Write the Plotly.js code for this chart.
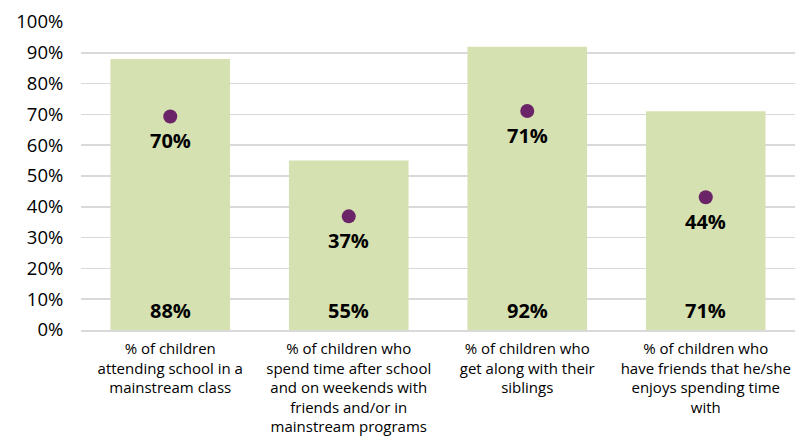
<!DOCTYPE html>
<html>
<head>
<meta charset="utf-8">
<script src="https://cdn.plot.ly/plotly-3.0.1.min.js"></script>
<style>html,body{margin:0;padding:0;background:#fff;}#chart{width:808px;height:440px;}</style>
</head>
<body>
<div id="chart"></div>
<script>
var categories = [
  "% of children<br>attending school in a<br>mainstream class",
  "% of children who<br>spend time after school<br>and on weekends with<br>friends and/or in<br>mainstream programs",
  "% of children who<br>get along with their<br>siblings",
  "% of children who<br>have friends that he/she<br>enjoys spending time<br>with"
];
var barValues = [88, 55, 92, 71];
var barLabels = ["88%", "55%", "92%", "71%"];
var dotValues = [69.3, 36.9, 71.1, 43.1];
var dotLabels = ["70%", "37%", "71%", "44%"];
var yTicks = [0, 10, 20, 30, 40, 50, 60, 70, 80, 90, 100];

var FONT = "Open Sans, Noto Sans, sans-serif";

var bars = {
  type: "bar",
  x: categories,
  y: barValues,
  marker: {color: "#d6e1b1"},
  hoverinfo: "skip"
};
var dots = {
  type: "scatter",
  mode: "markers",
  x: categories,
  y: dotValues,
  marker: {color: "#6b2467", size: 14},
  hoverinfo: "skip"
};

var annotations = [];
categories.forEach(function(c, i){
  annotations.push({
    x: c, y: 0, xref: "x", yref: "y",
    text: "<b>" + barLabels[i] + "</b>", showarrow: false,
    yanchor: "middle", yshift: 20,
    font: {family: FONT, size: 20, color: "#000"}
  });
  annotations.push({
    x: c, y: dotValues[i], xref: "x", yref: "y",
    text: "<b>" + dotLabels[i] + "</b>", showarrow: false,
    yanchor: "middle", yshift: -24,
    font: {family: FONT, size: 20, color: "#000"}
  });
});

var layout = {
  width: 808, height: 440,
  margin: {l: 81, r: 13, t: 22, b: 110},
  paper_bgcolor: "#fff", plot_bgcolor: "#fff",
  showlegend: false,
  bargap: 0.33,
  font: {family: FONT, color: "#000"},
  annotations: annotations,
  xaxis: {
    type: "category",
    tickfont: {family: FONT, size: 15, color: "#000"},
    showline: true, linecolor: "#d9d9d9", linewidth: 2,
    ticks: "outside", ticklen: 4, tickcolor: "rgba(0,0,0,0)",
    showgrid: false
  },
  yaxis: {
    range: [0, 100],
    tickvals: yTicks,
    ticktext: yTicks.map(function(v){return v + "%";}),
    tickfont: {family: FONT, size: 18.5, color: "#000"},
    showgrid: true, gridcolor: "#d9d9d9", gridwidth: 1.5,
    zeroline: false, showline: false,
    ticks: "outside", ticklen: 13, tickcolor: "rgba(0,0,0,0)"
  }
};

Plotly.newPlot("chart", [bars, dots], layout, {displayModeBar: false, staticPlot: true});
</script>
</body>
</html>
